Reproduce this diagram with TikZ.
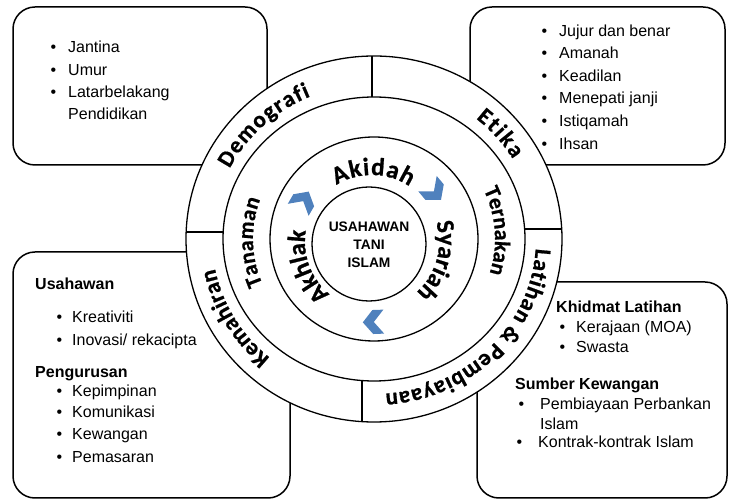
\documentclass[tikz,border=0pt]{standalone}
\usepackage{fontspec}
\setmainfont{Liberation Sans}
\newfontfamily\carlito{Carlito}[BoldFeatures={FakeBold=0.8}]
\usepackage{tikz}
\usetikzlibrary{decorations.text}

\definecolor{chevblue}{RGB}{79,129,189}

\newcommand\listfont{\fontsize{16}{19}\selectfont}
\newcommand\ringfont{\carlito\bfseries\fontsize{23}{23}\selectfont}
\newcommand\midfont{\carlito\bfseries\fontsize{22}{22}\selectfont}
\newcommand\corefont{\carlito\bfseries\fontsize{25}{25}\selectfont}
\newcommand\bul[1][12pt]{\llap{\textbullet\hspace{#1}}}

\begin{document}
\begin{tikzpicture}[x=1pt, y=1pt,
    item/.style={anchor=base west, inner sep=0pt, font=\listfont},
    head/.style={item, font=\listfont\bfseries},
    kotak/.style={line width=1.5pt, rounded corners=22pt},
    bulatan/.style={line width=1.3pt, fill=white},
    sekat/.style={line width=1.8pt},
    ringtext/.style={decorate, decoration={text along path, text align={fit to path}, text={#1}}}]
\useasboundingbox (0,0) rectangle (730,500);
\coordinate (C) at (374,261);
\coordinate (C3) at (372,258);
\coordinate (Cin) at (369,256);

% Kotak
\draw[kotak] (13,335) rectangle (267,493);
\draw[kotak] (470,335) rectangle (725,493);
\draw[kotak] (13,2) rectangle (290,248);
\draw[kotak] (477,2) rectangle (727,218);

% Bulatan
\draw[bulatan] (C) ellipse [x radius=188, y radius=183];
\draw[bulatan] (C) ellipse [x radius=151, y radius=142];
\draw[bulatan] (C) ellipse [x radius=104, y radius=102];
\draw[bulatan] (Cin) circle [radius=57];

% Garis sekat
\begin{scope}[shift={(C)}]
\draw[sekat] (-2,142) -- (-2,183);
\draw[sekat] (-12,-142) -- (-12,-183);
\draw[sekat] (-151,7) -- (-188,7);
\draw[sekat] (151,10) -- (188,10);
\end{scope}

% Label luar
\path[ringtext={|\ringfont|Demografi}] (C) ++(153:162 and 155) arc[start angle=153, end angle=113, x radius=162, y radius=155];
\path[ringtext={|\ringfont|Etika}] (C) ++(51:162 and 155) arc[start angle=51, end angle=31, x radius=162, y radius=155];
\path[ringtext={|\ringfont|Latihan {\&} Pembiayaan}] (C) ++(-3.5:162 and 155) arc[start angle=-3.5, end angle=-86, x radius=162, y radius=155];
\path[ringtext={|\ringfont|Kemahiran}] (C) ++(230:162 and 155) arc[start angle=230, end angle=191, x radius=162, y radius=155];

% Label tengah
\path[ringtext={|\midfont|Tanaman}] (C) ++(203:121 and 116) arc[start angle=203, end angle=160, x radius=121, y radius=116];
\path[ringtext={|\midfont|Ternakan}] (C) ++(25:121 and 116) arc[start angle=25, end angle=-17, x radius=121, y radius=116];

% Label dalam
\path[ringtext={|\corefont|Akidah}] (C3) ++(122:67) arc[start angle=122, end angle=56, radius=67];
\path[ringtext={|\corefont|Syariah}] (C3) ++(17:67) arc[start angle=17, end angle=-47, radius=67];
\path[ringtext={|\corefont|Akhlak}] (C3) ++(231:67) arc[start angle=231, end angle=171, radius=67];

% Anak panah
\foreach \a in {150,40,-88}
  \fill[chevblue, shift={(C3)}, shift={(\a:80)}, rotate=\a-90] (-9,12) -- (2,12) -- (12,0) -- (2,-12) -- (-9,-12) -- (1,0) -- cycle;

% Teras
\node[align=center, font=\bfseries\fontsize{13.8}{18}\selectfont] (teras) at (369,255) {USAHAWAN\\TANI\\ISLAM};

% Demografi
\foreach \t/\y [count=\i] in {Jantina/447, Umur/424, Latarbelakang/402}
  \node[item] (demo\i) at (68,\y) {\bul\t};
\node[item] (demo4) at (68,380) {Pendidikan};

% Etika
\foreach \t/\y [count=\i] in {Jujur dan benar/463, Amanah/441, Keadilan/418, Menepati janji/396, Istiqamah/373, Ihsan/350}
  \node[item] (etika\i) at (559,\y) {\bul\t};

% Kemahiran
\node[head] (usahawan) at (35,210) {Usahawan};
\node[item] (usaha1) at (72,177) {\bul[10pt]Kreativiti};
\node[item] (usaha2) at (72,154) {\bul[10pt]Inovasi/ rekacipta};
\node[head] (pengurusan) at (35,122) {Pengurusan};
\foreach \t/\y [count=\i] in {Kepimpinan/103, Komunikasi/82, Kewangan/60, Pemasaran/37}
  \node[item] (urus\i) at (72,\y) {\bul[10pt]\t};

% Latihan & pembiayaan
\node[head] (khidmat) at (556,187) {Khidmat Latihan};
\node[item] (khidmat1) at (576,167) {\bul[11pt]Kerajaan (MOA)};
\node[item] (khidmat2) at (576,147) {\bul[11pt]Swasta};
\node[head] (sumber) at (515,110) {Sumber Kewangan};
\node[item] (sumber1) at (540,90) {\bul[16pt]Pembiayaan Perbankan};
\node[item] (sumber2) at (540,70) {Islam};
\node[item] (sumber3) at (538,52) {\bul[16pt]Kontrak-kontrak Islam};
\end{tikzpicture}
\end{document}
